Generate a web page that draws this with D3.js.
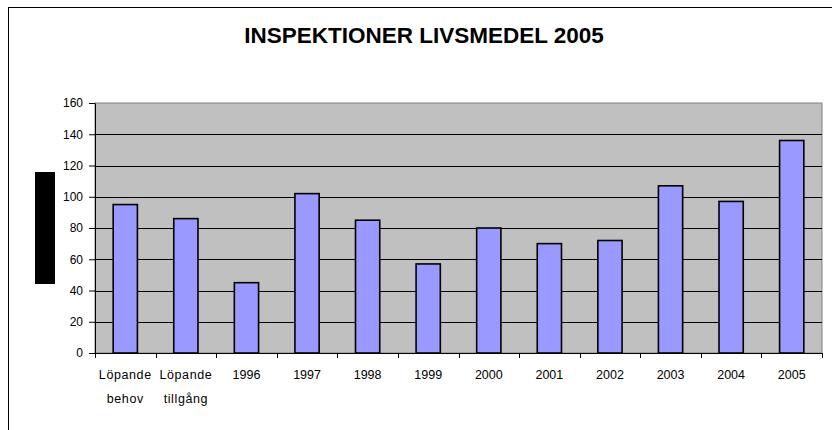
<!DOCTYPE html>
<html>
<head>
<meta charset="utf-8">
<script src="https://cdn.jsdelivr.net/npm/d3@7"></script>
<style>
  body { margin: 0; background: #fff; }
  svg { display: block; font-family: "Liberation Sans", Arial, sans-serif; }
</style>
</head>
<body>
<svg class="chart"></svg>
<script>
var categories = ["Löpande behov", "Löpande tillgång", "1996", "1997", "1998", "1999",
	"2000", "2001", "2002", "2003", "2004", "2005"];
var values = [95, 86, 45, 102, 85, 57, 80, 70, 72, 107, 97, 136];
var yTicks = [0, 20, 40, 60, 80, 100, 120, 140, 160];
var title = "INSPEKTIONER LIVSMEDEL 2005";

var W = 832, H = 430;
var plot = {left: 95, right: 822, top: 103, bottom: 353};

var svg = d3.select(".chart")
	.attr("width", W)
	.attr("height", H);

// outer chart frame (runs off the right/bottom edge)
svg.append("rect")
	.attr("x", 8.5).attr("y", 7.5)
	.attr("width", 840).attr("height", 440)
	.attr("fill", "#fff")
	.attr("stroke", "#000");

svg.append("text")
	.attr("x", 424).attr("y", 43)
	.attr("text-anchor", "middle")
	.style("font-size", "22.5px")
	.style("font-weight", "bold")
	.text(title);

// axis title box
svg.append("rect")
	.attr("x", 35).attr("y", 172)
	.attr("width", 20).attr("height", 112)
	.attr("fill", "#000");

var x = d3.scaleBand()
	.domain(categories)
	.range([plot.left, plot.right])
	.padding(0);

var y = d3.scaleLinear()
	.domain([0, 160])
	.range([plot.bottom, plot.top]);

// plot area
svg.append("rect")
	.attr("x", plot.left).attr("y", plot.top)
	.attr("width", plot.right - plot.left)
	.attr("height", plot.bottom - plot.top)
	.attr("fill", "#c0c0c0")
	.attr("stroke", "#808080");

svg.append("g").selectAll("line")
	.data(yTicks.filter(function(d) { return d > 0 && d < 160; }))
	.enter().append("line")
	.attr("x1", plot.left).attr("x2", plot.right)
	.attr("y1", function(d) { return Math.round(y(d)) + 0.5; })
	.attr("y2", function(d) { return Math.round(y(d)) + 0.5; })
	.attr("stroke", "#000");

var step = x.bandwidth();
svg.append("g").selectAll("rect")
	.data(values)
	.enter().append("rect")
	.attr("x", function(d, i) { return x(categories[i]) + step * 0.3; })
	.attr("y", function(d) { return y(d); })
	.attr("width", step * 0.4)
	.attr("height", function(d) { return y(0) - y(d); })
	.attr("fill", "#9999ff")
	.attr("stroke", "#000")
	.attr("stroke-width", 1.6);

var yAxis = svg.append("g")
	.attr("transform", "translate(" + plot.left + ",0)")
	.call(d3.axisLeft(y).tickValues(yTicks).tickSize(6).tickPadding(6).tickSizeOuter(0));
yAxis.select(".domain").attr("stroke", "#000");
yAxis.selectAll("text").style("font-size", "12px").attr("fill", "#000").style("font-family", "inherit");

// x axis line and category divider ticks
var xAxis = svg.append("g");
xAxis.append("line")
	.attr("x1", plot.left).attr("x2", plot.right)
	.attr("y1", plot.bottom + 0.5).attr("y2", plot.bottom + 0.5)
	.attr("stroke", "#000");
xAxis.selectAll(".tick")
	.data(categories.concat([null]))
	.enter().append("line")
	.attr("x1", function(d) { return d ? Math.round(x(d)) + 0.5 : plot.right + 0.5; })
	.attr("x2", function(d) { return d ? Math.round(x(d)) + 0.5 : plot.right + 0.5; })
	.attr("y1", plot.bottom).attr("y2", plot.bottom + 5)
	.attr("stroke", "#000");

var lbl = xAxis.selectAll(".lbl")
	.data(categories)
	.enter().append("text")
	.attr("text-anchor", "middle")
	.style("font-size", "12.5px")
	.attr("transform", function(d) { return "translate(" + (x(d) + step / 2) + ",379)"; });
lbl.selectAll("tspan")
	.data(function(d) { return d.split(" "); })
	.enter().append("tspan")
	.attr("x", 0)
	.attr("y", function(d, i) { return i * 24; })
	.style("letter-spacing", function(d) { return isNaN(+d) ? "0.6px" : null; })
	.text(function(d) { return d; });
</script>
</body>
</html>
